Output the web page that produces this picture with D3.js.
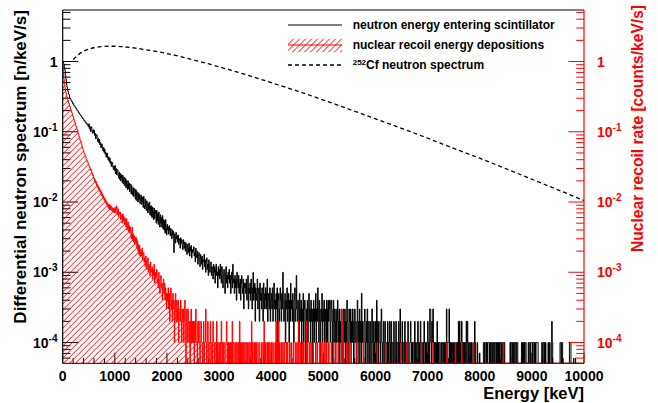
<!DOCTYPE html>
<html><head><meta charset="utf-8">
<script src="https://cdn.jsdelivr.net/npm/d3@7"></script>
<style>
html,body{margin:0;padding:0;background:#fff;}
svg{display:block;font-family:"Liberation Sans",Arial,Helvetica,sans-serif;font-weight:bold;}
</style>
</head><body>
<svg id="c" width="658" height="403"></svg>
<script>
// ---- data ----
const binWidth = 10;          // keV per histogram bin
const countUnit = 1e-4;       // rate per count (per keV per s)
// neutron energy entering scintillator (counts per 10 keV bin, 0..10000 keV)
const blackCounts = [
10000,9500,9100,8200,7500,6300,5600,4700,4350,3900,3750,3450,3380,3100,2960,2930,2770,2690,2680,2500,2520,2380,2330,2310,2210,2150,2160,2030,1990,1980,1880,1870,1790,1770,1700,1700,1620,1610,1540,1540,1490,1430,1440,1360,1370,1300,1310,1240,1250,1180,
1295,1105,1185,1010,1155,1175,1010,950,1070,970,1045,890,945,800,905,910,780,725,810,700,775,655,700,590,670,665,575,535,600,510,570,480,515,435,490,495,425,395,440,375,420,355,380,320,365,365,315,290,325,280,
330,255,300,245,290,285,235,220,265,210,255,200,245,225,190,240,180,215,225,170,215,160,205,180,150,200,155,185,140,175,180,130,170,140,125,160,120,155,150,110,150,105,140,125,100,135,108,128,95,118,
125,92,118,100,84,120,88,80,110,86,76,104,96,70,95,78,100,66,88,64,88,60,84,72,56,82,58,76,70,50,76,54,68,48,72,60,44,66,50,60,44,64,42,56,40,54,36,56,42,34,
48,40,44,35,46,39,33,42,36,30,40,34,38,19,35,31,26,37,30,33,27,34,25,30,28,22,31,26,29,24,21,29,25,22,27,20,26,23,18,25,22,19,26,17,23,20,24,16,21,19,
20,23,17,19,14,22,18,16,20,13,17,19,15,12,18,16,13,17,11,15,14,18,12,15,10,14,16,11,13,9,15,12,10,13,14,9,12,11,8,13,10,12,7,11,13,9,10,6,12,9,
11,8,13,9,7,12,10,6,9,11,8,5,10,12,7,9,6,10,8,11,7,9,5,8,10,6,13,7,8,5,9,6,8,4,10,7,6,9,5,7,8,4,7,9,6,5,8,3,7,6,
7,5,8,4,6,9,3,6,5,7,4,8,5,3,6,10,4,5,7,2,6,4,5,8,3,5,6,2,7,4,5,3,6,4,2,7,5,3,4,6,3,5,8,2,4,5,3,6,2,4,
5,3,6,2,4,7,3,4,2,5,3,6,1,4,5,2,3,6,4,2,5,3,10,4,2,3,5,1,4,3,6,2,3,5,1,4,2,7,3,4,2,5,3,1,4,6,2,3,9,3,
2,4,3,1,5,2,3,4,0,3,2,5,1,3,4,2,0,3,2,4,1,3,5,2,3,1,4,2,3,0,2,4,1,3,2,5,1,3,2,6,3,1,4,2,0,3,2,5,1,3,
2,4,1,3,2,0,4,3,1,4,2,3,4,1,2,4,3,0,2,4,1,3,2,0,3,1,2,4,1,2,3,0,2,1,3,2,1,0,3,2,1,3,0,2,1,4,2,0,1,3,
2,1,3,0,2,1,3,2,0,1,3,2,1,0,2,4,1,2,0,3,1,2,0,5,1,2,1,0,2,3,1,0,2,1,3,0,1,2,0,1,2,0,1,3,1,0,2,1,0,2,
1,0,4,2,1,0,2,1,1,0,2,3,1,0,1,2,0,1,2,0,1,1,0,2,1,0,1,2,0,1,2,0,1,1,0,2,1,0,1,2,0,1,1,0,2,1,0,3,1,0,
1,2,0,1,1,0,2,1,0,1,1,0,2,1,0,0,1,2,1,0,1,0,1,1,0,2,0,1,1,0,1,2,0,1,0,1,2,0,1,1,0,1,0,2,1,0,1,1,0,1,
2,0,1,0,3,3,1,0,2,1,3,1,0,1,0,1,1,0,2,0,1,0,1,1,0,0,1,0,1,1,0,1,0,1,0,0,3,1,0,1,1,3,0,1,0,1,0,0,1,0,
1,0,1,0,0,1,0,1,0,2,0,2,1,0,1,2,0,1,0,1,0,1,0,1,2,0,2,1,0,1,0,0,1,0,1,0,0,1,0,0,2,1,0,0,0,1,0,0,0,0.7,
0,0,0,0,0,0,0,1,1,0,1,1,0,1,0,1,1,1,0,1,0,1,1,0,1,0,1,1,0,1,1,0,1,0,1,1,0,1,0,1,1,0,1,1,0,1,0,1,0,0,
0,0,0,0,0,0,0,0,1,0,1,1,0,1,0,1,1,0,1,1,0,1,1,0,0,0,0,0,0,0,1,0,1,1,0,1,0,1,1,0,0,0,0,1,0,1,1,0,1,1,
1,0,1,1,0,1,1,0,1,1,1,1,0,0,0,0,0,0,0,1,0,1,1,0,1,0,1,0,0,0,0,1,0,0,1,0,0,0,2,1,0,0,0,0,0,0,0,0,0,0,
0,0,0,0,1,1,0,1,1,0,0,0,0,0,0,0,0,0,0,0,0,0,1,1,1,0,0,0,0,0,0,0,0,0.6,0,0,0,0,0,0,0,0,0,0,0,0,0,0,0,0
];
// nuclear recoil energy depositions (counts per 10 keV bin)
const redCounts = [
9500,6800,5650,4850,4350,3800,3550,3200,3100,2850,2800,2560,2500,2290,2250,2060,2030,1870,1830,1670,1640,1500,1480,1340,1320,1210,1180,1080,1060,960,940,855,835,760,745,680,660,605,590,540,530,485,478,440,436,402,398,368,366,338,
335,312,308,284,290,262,262,240,243,218,220,198,205,186,195,172,180,160,168,150,158,140,148,131,140,121,130,114,122,106,114,100,108,94,102,88,96,82,91,79,92,78,88,76,84,74,82,72,80,70,
84,70,78,88,66,74,80,62,72,68,72,56,66,60,50,68,54,62,48,58,54,44,58,40,50,52,38,46,36,44,40,30,36,44,28,35,27,33,25,31,27,31,22,28,20,25,18,24,17,21,
20,17,22,15,18,19,14,16,12,17,15,11,14,16,10,13,12,9,14,11,10,12,8,11,9,13,7,10,8,9,11,7,8,6,10,7,5,8,9,6,7,4,6,8,5,7,4,6,5,3,
5,4,6,3,5,2,4,6,3,4,2,5,3,4,1,3,5,2,4,3,2,4,1,3,3,2,4,2,1,3,2,3,1,2,4,2,0,3,2,1,3,2,1,2,0,2,3,1,2,1,
2,1,0,2,1,3,1,1,0,2,1,2,1,0,1,2,1,1,0,1,2,0,1,1,3,1,0,1,2,1,0,1,1,2,0,1,1,0,2,1,1,0,1,1,0,2,1,0,1,1,
0,1,1,0,2,1,0,1,0,1,1,0,0,1,2,1,0,1,0,0,1,1,0,1,0,2,0,1,1,0,0,1,0,1,1,0,0,1,0,2,1,0,1,0,0,1,1,0,0,1,
1,0,0,1,0,1,0,0,1,1,0,0,2,0,1,0,0,1,0,0,1,0,1,0,0,0,1,1,0,0,0,1,0,0,1,0,2,0,0,1,0,0,1,0,1,0,0,1,0,0,
1,0,0,1,0,0,0,1,0,2,0,1,0,0,2,0,1,0,0,1,0,0,1,0,0,1,0,0,0,1,0,1,0,0,0,1,0,0,1,0,0,0,1,0,0,0,1,0,0,1,
0,0,2,0,0,1,0,0,0,1,0,0,1,0,0,0,0,2,0,1,0,0,0,1,0,0,1,0,0,0,1,0,0,0,0,1,0,0,1,0,0,0,0,1,0,0,0,1,0,0,
0,1,0,0,0,0,1,0,0,0,1,0,0,0,0,1,0,0,0,1,0,0,0,1,0,0,0,0,1,0,0,0,0,0,0,3,0,0,1,0,0,0,0,0,1,0,0,0,0,1,
0,0,0,1,0,0,0,0,0,0,0,0,0,0,1,0,0,0,0,0,0,0,0,0,0,0,1,0,0,0,0,0,0,0,0,0,0,0,0,0,0,0,0,0,0,0,0,0,0,0,
0,0,0,1,0,0,0,0,0,0,0,0,0,0,0,0,0,0,0,1,0,0,0,0,0,0,0,0,0,0,0,0,0,0,0,0,0,0,0,0,0,0,0,0,0,0,0,0,0,1,
0,0,0,0,0,0,0,0,0,0,1,0,0,0,0,0,0,0,0,0,0,0,0,0,0,0,0,0,0,0,0,0,0,0,0,0,0,0,1,0,0,0,0,0,0,0,0,0,0,0,
0,0,0,0,0,0,0,0,0,0,1,0,0,0,0,0,0,0,0,0,0,0,0,0,0,0,0,0,0,0,0,0,0,0,0,0,0,1,0,0,0,0,0,0,0,0,0,0,0,0,
0,0,0,1,0,0,0,0,0,0,0,0,0,0,0,1,0,0,0,0,0,0,0,0,0,0,0,0,0,0,0,0,0,0,0,0,0,0,1,0,0,0,0,0,0,0,0,0,0,0,
0,0,0,0,0,0,0,0,0,0,0,0,0,0,0,0,0,0,0,0,0,0,0,0,0,0,0,0,0,0,0,0,0,0,0,0,0,0,0,0,0,0,0,0,0,1,0,0,0,0,
0,0,0,0,0,0,0,0,0,0,0,0,0,0,0,0,0,0,0,0,0,0,0,0,0,0,0,0,0,0,0,0,0,0,0,0,0,0,0,0,0,0,0,0,0,0,0,0,0,0,
0,0,0,0,0,0,0,0,0,0,0,0,0,0,0,0,0,0,0,0,0,0,0,0,0,0,0,0,0,0,0,0,0,0,0,0,0,0,0,0,0,0,0,0,0,0,0,0,0,0,
0,0,0,0,0,0,0,0,0,0,0,0,0,0,0,0,0,0,0,0,0,0,0,0,0,0,0,0,0,0,0,0,0,0,0,0,0,0,0,0,0,0,0,0,0,0,0,0,0,0
];
// 252Cf neutron spectrum (dashed)
const cfEnergy   = [200,300,400,500,600,700,800,900,1000,1200,1400,1600,1800,2000,2500,3000,3500,4000,4500,5000,5500,6000,6500,7000,7500,8000,8500,9000,9500,10000];
const cfSpectrum = [1.07,1.25,1.40,1.50,1.57,1.61,1.64,1.65,1.65,1.61,1.55,1.47,1.39,1.30,1.06,0.84,0.655,0.50,0.38,0.283,0.209,0.153,0.112,0.081,0.058,0.042,0.0298,0.0211,0.0149,0.0105];

const xTickValues = [0,1000,2000,3000,4000,5000,6000,7000,8000,9000,10000];
const xTickLabels = ["0","1000","2000","3000","4000","5000","6000","7000","8000","9000","10000"];
const yTickValues = [1e-4,1e-3,1e-2,1e-1,1];
const yTickExps   = ["-4","-3","-2","-1",""];
const legendLabels = ["neutron energy entering scintillator","nuclear recoil energy depositions","Cf neutron spectrum"];
const xTitle = "Energy [keV]";
const yTitleLeft = "Differential neutron spectrum [n/keV/s]";
const yTitleRight = "Nuclear recoil rate [counts/keV/s]";

// ---- layout ----
const RED = "#ff0000";
const L = 62.7, R = 584, T = 10, B = 363.3;
const yMin = 5.06e-5, yMax = 5.41;
const x = d3.scaleLinear().domain([0,10000]).range([L,R]);
const y = d3.scaleLog().domain([yMin,yMax]).range([B,T]);
const svg = d3.select("#c");

function toPoints(counts){
  const pts = counts.map((c,i)=>({e:i*binWidth, v:c*countUnit}));
  pts.push({e:counts.length*binWidth, v:counts[counts.length-1]*countUnit});
  return pts;
}
const yc = v => y(Math.max(v,yMin));
const stepLine = d3.line().x(d=>x(d.e)).y(d=>yc(d.v)).curve(d3.curveStepAfter);
const stepArea = d3.area().x(d=>x(d.e)).y0(B).y1(d=>yc(d.v)).curve(d3.curveStepAfter);
const blackPts = toPoints(blackCounts), redPts = toPoints(redCounts);

const defs = svg.append("defs");
defs.append("clipPath").attr("id","clip").append("rect")
  .attr("x",L).attr("y",T).attr("width",R-L).attr("height",B-T);
defs.append("clipPath").attr("id","redclip").append("path").attr("d",stepArea(redPts));
defs.append("clipPath").attr("id","legclip").append("rect")
  .attr("x",288).attr("y",38.5).attr("width",54).attr("height",14);

function hatch(g, x0, x1, y0, y1){
  const h = y1 - y0, step = 6;
  g.selectAll("line").data(d3.range(x0 - h, x1 + step, step)).join("line")
    .attr("x1",d=>d).attr("y1",y1).attr("x2",d=>d+h).attr("y2",y0)
    .attr("stroke",RED).attr("stroke-width",1);
}

// frame
svg.append("line").attr("x1",L).attr("x2",R).attr("y1",T).attr("y2",T).attr("stroke","#000");
svg.append("line").attr("x1",L).attr("x2",R).attr("y1",B).attr("y2",B).attr("stroke","#000");

// x ticks
const xMinor = d3.range(0,10001,200);
svg.append("g").selectAll("line").data(xMinor).join("line")
  .attr("x1",d=>x(d)).attr("x2",d=>x(d)).attr("y1",B)
  .attr("y2",d=> d%1000===0 ? B-10.6 : B-5.3)
  .attr("stroke","#000");
svg.append("g").selectAll("text").data(xTickValues).join("text")
  .attr("x",d=>x(d)).attr("y",380.5).attr("text-anchor","middle")
  .attr("font-size",14).text((d,i)=>xTickLabels[i]);
svg.append("text").attr("x",R).attr("y",398.5).attr("text-anchor","end")
  .attr("font-size",16.5).text(xTitle);

// y ticks (log)
const yMinorVals = [];
for (let e=-5; e<=0; e++) for (let k=1;k<=9;k++){ const v=k*Math.pow(10,e); if (v>=yMin && v<=yMax) yMinorVals.push(v); }
function isMajor(v){ const l=Math.log10(v); return Math.abs(l-Math.round(l))<1e-9; }
svg.append("g").selectAll("line").data(yMinorVals).join("line")
  .attr("x1",L).attr("x2",d=>L+(isMajor(d)?15.6:7.8))
  .attr("y1",d=>y(d)).attr("y2",d=>y(d)).attr("stroke","#000");

function logLabel(g, v, i, xPos, anchor, color){
  const t = g.append("text").attr("x",xPos).attr("y",y(v)+5).attr("text-anchor",anchor)
    .attr("font-size",14).attr("fill",color);
  if (yTickExps[i]===""){ t.text("1"); }
  else { t.append("tspan").text("10"); t.append("tspan").attr("dy",-6).attr("font-size",10).text(yTickExps[i]); }
}
const gl = svg.append("g"), gr = svg.append("g");
yTickValues.forEach((v,i)=>{ logLabel(gl,v,i,57.5,"end","#000"); logLabel(gr,v,i,597,"start",RED); });

svg.append("text").attr("transform","translate(25.5,10) rotate(-90)").attr("text-anchor","end")
  .attr("font-size",17).text(yTitleLeft);
svg.append("text").attr("transform","translate(643,5) rotate(-90)").attr("text-anchor","end")
  .attr("font-size",15.6).attr("fill",RED).text(yTitleRight);

// ---- histograms ----
const plot = svg.append("g").attr("clip-path","url(#clip)");
plot.append("path").attr("d",stepLine(blackPts)).attr("fill","none").attr("stroke","#000").attr("stroke-width",1);
hatch(plot.append("g").attr("clip-path","url(#redclip)"), L, R, T, B);
plot.append("path").attr("d",stepLine(redPts)).attr("fill","none").attr("stroke",RED).attr("stroke-width",1);

const cfLine = d3.line().x((d,i)=>x(cfEnergy[i])).y(d=>y(d)).curve(d3.curveMonotoneX);
plot.append("path").attr("d",cfLine(cfSpectrum)).attr("fill","none").attr("stroke","#000")
  .attr("stroke-width",1.3).attr("stroke-dasharray","4,3");

// axis lines on top
svg.append("line").attr("x1",L).attr("x2",L).attr("y1",T).attr("y2",B).attr("stroke","#000").attr("stroke-width",1.2);
svg.append("line").attr("x1",R).attr("x2",R).attr("y1",T).attr("y2",B).attr("stroke",RED).attr("stroke-width",1.2);
svg.append("g").selectAll("line").data(yMinorVals).join("line")
  .attr("x1",R).attr("x2",d=>R-(isMajor(d)?15.6:7.8))
  .attr("y1",d=>y(d)).attr("y2",d=>y(d)).attr("stroke",RED);

// ---- legend ----
const lx0 = 288, lx1 = 342, tx = 352.7, rows = [25,45,65];
const lg = svg.append("g");
lg.append("line").attr("x1",lx0).attr("x2",lx1).attr("y1",rows[0]).attr("y2",rows[0]).attr("stroke","#000");
hatch(lg.append("g").attr("clip-path","url(#legclip)"), lx0, lx1, 38.5, 52.5);
lg.append("line").attr("x1",lx0).attr("x2",lx1).attr("y1",rows[1]).attr("y2",rows[1]).attr("stroke",RED);
lg.append("line").attr("x1",lx0).attr("x2",lx1).attr("y1",rows[2]).attr("y2",rows[2]).attr("stroke","#000")
  .attr("stroke-width",1.3).attr("stroke-dasharray","4,3");
lg.append("text").attr("x",tx).attr("y",rows[0]+4.3).attr("font-size",12).text(legendLabels[0]);
lg.append("text").attr("x",tx).attr("y",rows[1]+4.3).attr("font-size",12).text(legendLabels[1]);
const t3 = lg.append("text").attr("x",tx).attr("y",rows[2]+4.3).attr("font-size",12);
t3.append("tspan").attr("font-size",8).attr("dy",-4.5).text("252");
t3.append("tspan").attr("dy",4.5).text(legendLabels[2]);
</script>
</body></html>
